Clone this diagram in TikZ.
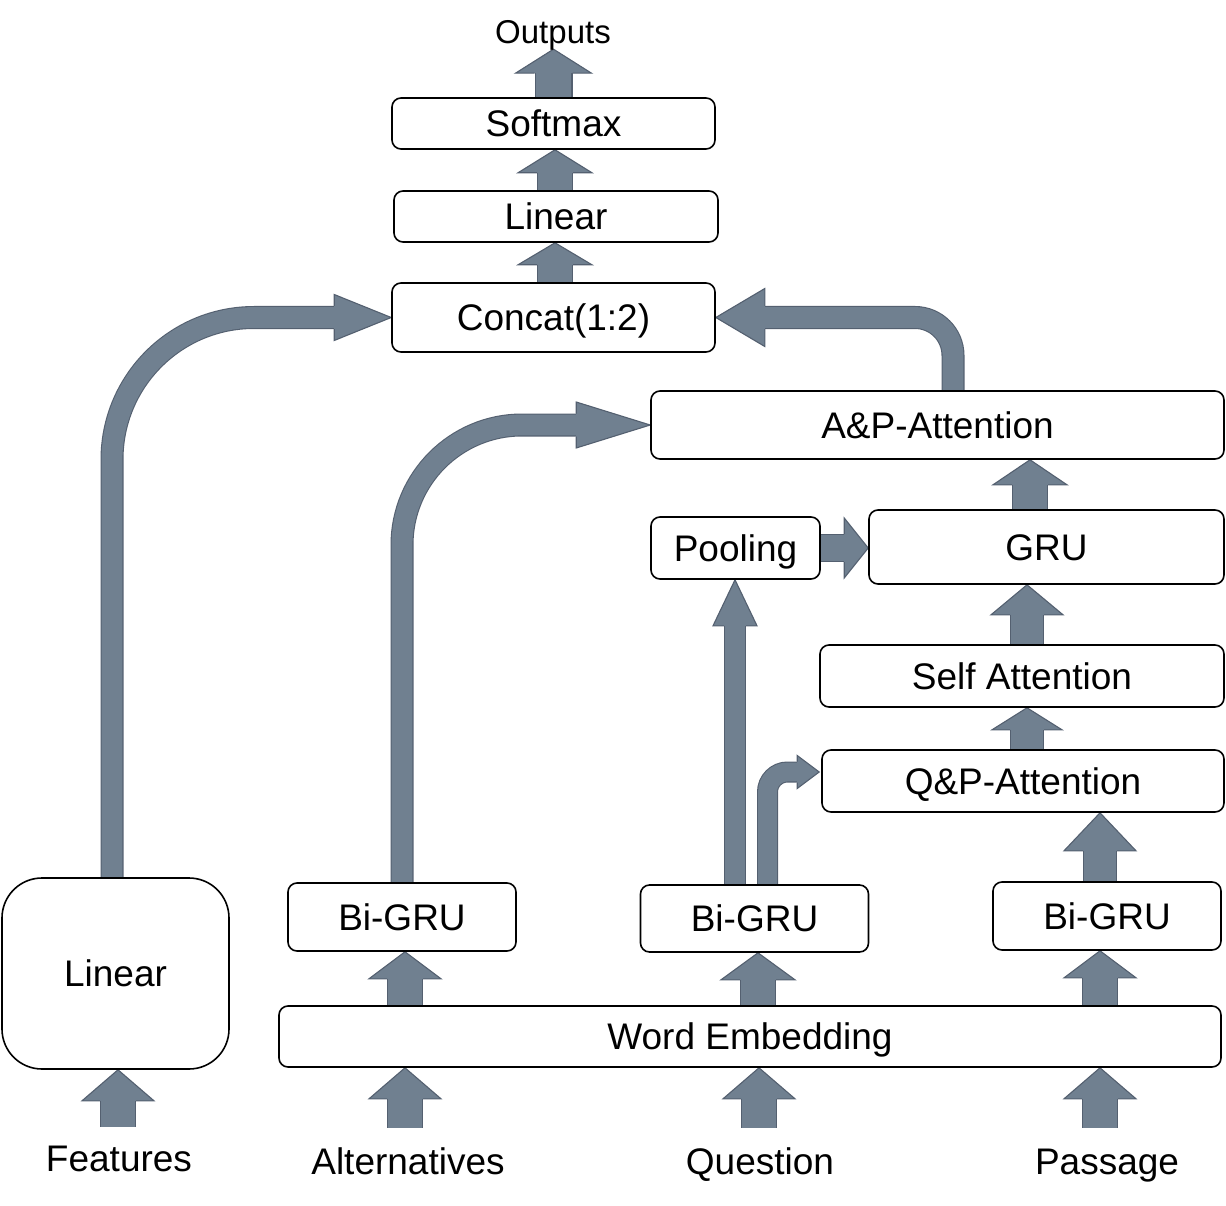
\documentclass[tikz,border=0pt]{standalone}
\usepackage{fontspec}
\setmainfont{Liberation Sans}
\usetikzlibrary{calc}
\definecolor{arrfill}{RGB}{112,128,144}
\definecolor{arredge}{RGB}{84,96,112}
\pgfdeclarelayer{bg}
\pgfsetlayers{bg,main}
\tikzset{
 box/.style={draw=black, line width=1.6pt, rounded corners=9pt, fill=white,
   font=\fontsize{37}{44}\selectfont, text height=26.5pt, text depth=0pt, inner sep=0pt},
 lbl/.style={font=\fontsize{37}{44}\selectfont, text height=26.5pt, text depth=0pt, inner sep=0pt},
 shaft/.style={draw=arredge, line width=1.1pt, double=arrfill},
 headsty/.style={fill=arrfill, draw=arredge, line width=1.1pt, line join=miter},
}
\newcommand\blkhead[5]{% tip, angle, half shaft, half head, head length
 \begin{scope}[shift={(#1)}, rotate=#2]
 \filldraw[headsty] (-#5,#3) -- (-#5,#4) -- (0,0) -- (-#5,-#4) -- (-#5,-#3);
 \end{scope}}
\newcommand\varrow[5]{% tail, target, half shaft, half head, head length
 \pgfmathsetmacro\dd{2*#3-2.2}%
 \draw[shaft, double distance=\dd pt] (#1) -- ($(#1 |- #2)+(0,#5)$);
 \blkhead{#1 |- #2}{90}{#3}{#4}{#5}}
\begin{document}
\begin{tikzpicture}[x=1pt,y=-1pt]
\useasboundingbox (0,0) rectangle (1226,1206);
% boxes
\node[box, minimum width=323, minimum height=51] (soft) at (553.5,123.5) {Softmax};
\node[box, minimum width=324, minimum height=51] (lin) at (556,216.5) {Linear};
\node[box, minimum width=323, minimum height=69] (concat) at (553.5,317.5) {Concat(1:2)};
\node[box, minimum width=573, minimum height=68] (apatt) at (937.5,425) {A\&P-Attention};
\node[box, minimum width=169, minimum height=62] (pool) at (735.5,548) {Pooling};
\node[box, minimum width=355, minimum height=74] (gru) at (1046.5,547) {GRU};
\node[box, minimum width=404, minimum height=62] (selfatt) at (1022,676) {Self Attention};
\node[box, minimum width=402, minimum height=62] (qpatt) at (1023,781) {Q\&P-Attention};
\node[box, minimum width=228, minimum height=68] (bg1) at (402,917) {Bi-GRU};
\node[box, minimum width=228, minimum height=67] (bg2) at (754.5,918.5) {Bi-GRU};
\node[box, minimum width=228, minimum height=68] (bg3) at (1107,916) {Bi-GRU};
\node[box, rounded corners=40pt, minimum width=227, minimum height=191] (linL) at (115.5,973.5) {Linear};
\node[box, minimum width=942, minimum height=61] (we) at (750,1036.5) {Word Embedding};
% labels
\node[lbl, font=\fontsize{33}{40}\selectfont, text height=23.6pt, inner ysep=5.2pt] (outputs) at (553,32) {Outputs};
\node[lbl] (feat) at (119,1158) {Features};
\node[lbl] (alts) at (408,1161) {Alternatives};
\node[lbl] (quest) at (760,1161) {Question};
\node[lbl] (pass) at (1107,1161) {Passage};
% tail coordinates
\coordinate (t2) at ($(lin.north)+(-1,0)$);
\coordinate (t3) at ($(concat.north)+(1.5,0)$);
\coordinate (t4) at ($(gru.north)+(-16.5,0)$);
\coordinate (t6) at ($(selfatt.north)+(5,0)$);
\coordinate (t7) at ($(qpatt.north)+(4,0)$);
\coordinate (t8) at ($(bg3.north)+(-7,0)$);
\coordinate (t9) at ($(we.north)+(-345,0)$);
\coordinate (t10) at ($(we.north)+(8,0)$);
\coordinate (t11) at ($(we.north)+(350,0)$);
\coordinate (t12) at ($(feat.north)+(-1,-18)$);
\coordinate (t13) at ($(alts.north)+(-3,-20)$);
\coordinate (t14) at ($(quest.north)+(-1,-20)$);
\coordinate (t15) at ($(pass.north)+(-7,-20)$);
\coordinate (t16) at ($(bg2.north)+(-19.5,0)$);
\coordinate (t17) at ($(bg2.north)+(13,0)$);
\coordinate (q1) at ($(qpatt.west)+(-2,-9)$);
\coordinate (t18) at ($(linL.north)+(-3.5,0)$);
\coordinate (t20) at ($(apatt.north)+(15.5,0)$);
\begin{pgfonlayer}{bg}
\varrow{soft.north}{outputs.south}{19}{38}{24}
\varrow{t2}{soft.south}{18}{37}{23}
\varrow{t3}{lin.south}{18}{37}{22}
\varrow{t4}{apatt.south}{18}{37}{25}
\draw[shaft, double distance=25.8pt] (pool.east) -- ($(pool.east -| gru.west)+(-24,0)$);
\blkhead{pool.east -| gru.west}{0}{14}{30}{24}
\varrow{t6}{gru.south}{17}{36}{30}
\varrow{t7}{selfatt.south}{17}{35}{22}
\varrow{t8}{qpatt.south}{17}{36}{38}
\varrow{t9}{bg1.south}{18}{36}{27}
\varrow{t10}{bg2.south}{18}{37}{27}
\varrow{t11}{bg3.south}{18}{36}{27}
\varrow{t12}{linL.south}{18}{36}{31}
\varrow{t13}{we.south}{18}{36}{31}
\varrow{t14}{we.south}{18}{36}{31}
\varrow{t15}{we.south}{18}{36}{31}
\varrow{t16}{pool.south}{11}{22}{46}
% bent arrow Bi-GRU -> Q&P
\draw[shaft, double distance=18.8pt, rounded corners=20pt] (t17) |- ($(q1)+(-22,0)$);
\blkhead{q1}{0}{10.5}{16.5}{22}
% Linear -> Concat
\draw[shaft, double distance=20.8pt, rounded corners=142pt] (t18) |- ($(concat.west)+(-57,0)$);
\blkhead{concat.west}{0}{11.5}{23}{57}
% Bi-GRU -> A&P
\draw[shaft, double distance=20.8pt, rounded corners=120pt] (bg1.north) |- ($(apatt.west)+(-74,0)$);
\blkhead{apatt.west}{0}{11.5}{23}{74}
% A&P -> Concat
\draw[shaft, double distance=20.8pt, rounded corners=38pt] (t20) |- ($(concat.east)+(49,0)$);
\blkhead{concat.east}{180}{11.5}{29}{49}
\end{pgfonlayer}
\end{tikzpicture}
\end{document}
